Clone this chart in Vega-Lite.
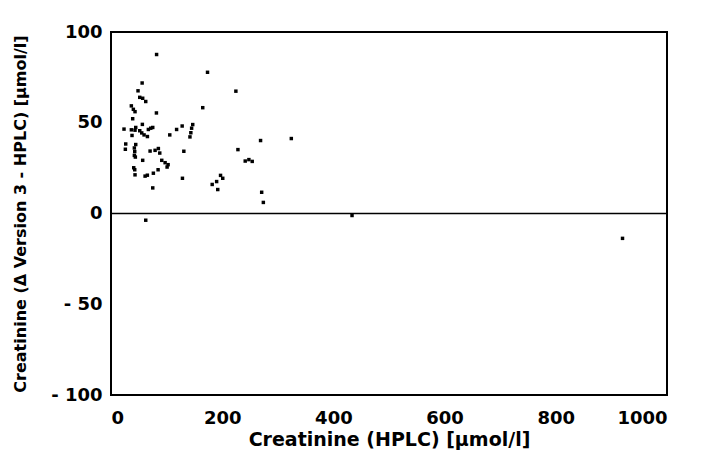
{
  "$schema": "https://vega.github.io/schema/vega-lite/v6.json",
  "autosize": "none",
  "width": 556,
  "height": 363,
  "padding": {"left": 111, "top": 32, "right": 43, "bottom": 63},
  "background": "white",
  "config": {
    "view": {"stroke": "black", "strokeWidth": 2},
    "axis": {"labelFont": "DejaVu Sans", "titleFont": "DejaVu Sans", "labelFontWeight": "bold", "titleFontWeight": "bold", "labelFontSize": 18, "titleFontSize": 17, "labelColor": "black", "titleColor": "black", "domain": false, "grid": false, "ticks": false, "format": "d"}
  },
  "datasets": {
    "pts": [
      {"hplc": 82, "diff": 87.6}, {"hplc": 173.6, "diff": 77.8}, {"hplc": 56, "diff": 71.9}, {"hplc": 48.6, "diff": 67.6},
      {"hplc": 224.6, "diff": 67.4}, {"hplc": 51.7, "diff": 64}, {"hplc": 57, "diff": 63.5}, {"hplc": 62.5, "diff": 61.7},
      {"hplc": 36.6, "diff": 59.3}, {"hplc": 40.2, "diff": 57.4}, {"hplc": 43.2, "diff": 56.1}, {"hplc": 165, "diff": 58.3},
      {"hplc": 81.7, "diff": 55.4}, {"hplc": 39, "diff": 52.2}, {"hplc": 147, "diff": 49}, {"hplc": 145, "diff": 47},
      {"hplc": 143.6, "diff": 44.5}, {"hplc": 142, "diff": 42.2}, {"hplc": 128, "diff": 48.2}, {"hplc": 118, "diff": 46.3},
      {"hplc": 105.7, "diff": 43.3}, {"hplc": 23.4, "diff": 46.5}, {"hplc": 36.6, "diff": 46.1}, {"hplc": 44.5, "diff": 47.4},
      {"hplc": 43.2, "diff": 45.9}, {"hplc": 56.4, "diff": 49.1}, {"hplc": 51.7, "diff": 45.6}, {"hplc": 55.3, "diff": 44.4},
      {"hplc": 59.5, "diff": 43.3}, {"hplc": 65.5, "diff": 42.4}, {"hplc": 67.2, "diff": 46.3}, {"hplc": 71.5, "diff": 47},
      {"hplc": 75.1, "diff": 47.4}, {"hplc": 37.8, "diff": 43}, {"hplc": 26.5, "diff": 38.3}, {"hplc": 25.8, "diff": 35.4},
      {"hplc": 44.5, "diff": 38}, {"hplc": 42, "diff": 36.1}, {"hplc": 42.7, "diff": 34.1}, {"hplc": 42, "diff": 32},
      {"hplc": 43.8, "diff": 31.1}, {"hplc": 57, "diff": 29.3}, {"hplc": 70.3, "diff": 34.4}, {"hplc": 79.3, "diff": 34.8},
      {"hplc": 85.2, "diff": 35.8}, {"hplc": 87.7, "diff": 33.3}, {"hplc": 131, "diff": 34.3}, {"hplc": 228.3, "diff": 35.2},
      {"hplc": 269, "diff": 40.2}, {"hplc": 324.3, "diff": 41.3}, {"hplc": 91.3, "diff": 29.3}, {"hplc": 97.3, "diff": 28},
      {"hplc": 102.7, "diff": 26.9}, {"hplc": 100.9, "diff": 25.6}, {"hplc": 241.4, "diff": 28.9}, {"hplc": 248, "diff": 29.7},
      {"hplc": 254, "diff": 28.7}, {"hplc": 40.9, "diff": 25.2}, {"hplc": 42.7, "diff": 24.1}, {"hplc": 43.2, "diff": 21.3},
      {"hplc": 61.3, "diff": 20.6}, {"hplc": 65.4, "diff": 21.1}, {"hplc": 76.2, "diff": 22.2}, {"hplc": 84.7, "diff": 24.1},
      {"hplc": 128.5, "diff": 19.4}, {"hplc": 75.1, "diff": 14.1}, {"hplc": 182, "diff": 16}, {"hplc": 190, "diff": 17.6},
      {"hplc": 192, "diff": 13.2}, {"hplc": 197, "diff": 21}, {"hplc": 201, "diff": 19.4}, {"hplc": 271, "diff": 11.7},
      {"hplc": 274, "diff": 6.1}, {"hplc": 62.5, "diff": -3.7}, {"hplc": 433.5, "diff": -1.1}, {"hplc": 920, "diff": -13.7}
    ],
    "zero": [{"y": 0}]
  },
  "layer": [
    {
      "data": {"name": "zero"},
      "mark": {"type": "rule", "color": "black", "strokeWidth": 1.5},
      "encoding": {"y": {"field": "y", "type": "quantitative"}}
    },
    {
      "data": {"name": "pts"},
      "mark": {"type": "square", "filled": true, "color": "black", "size": 12, "opacity": 1},
      "encoding": {
        "x": {"field": "hplc", "type": "quantitative", "scale": {"domain": [0, 1000], "nice": false},
          "axis": {"values": [0, 200, 400, 600, 800, 1000], "title": "Creatinine (HPLC) [µmol/l]", "labelPadding": 14, "titlePadding": 3, "titleFontSize": 19}},
        "y": {"field": "diff", "type": "quantitative", "scale": {"domain": [-100, 100], "nice": false},
          "axis": {"values": [-100, -50, 0, 50, 100], "title": "Creatinine (Δ Version 3 - HPLC) [µmol/l]", "labelPadding": 9, "titlePadding": 22, "titleFontSize": 16,
            "labelExpr": "datum.value < 0 ? '- ' + abs(datum.value) : datum.label"}}
      }
    }
  ]
}
